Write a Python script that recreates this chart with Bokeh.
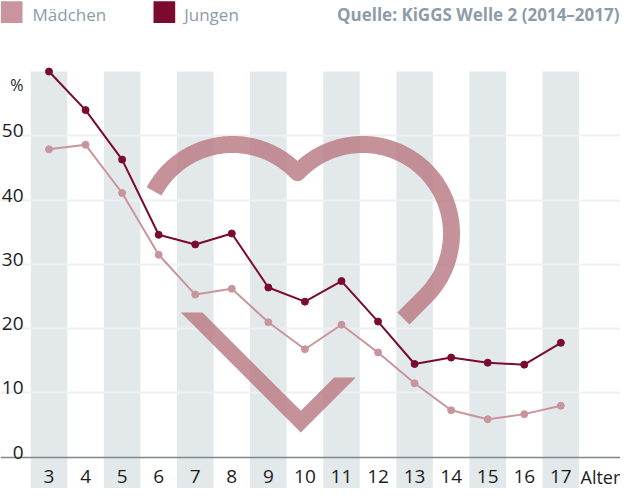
import numpy as np
from bokeh.plotting import figure
from bokeh.models import Range1d
from bokeh.embed import file_html
from bokeh.resources import INLINE
from bokeh.core.properties import value

# ---------------- data ----------------
ages = list(range(3, 18))
maedchen = [47.9, 48.6, 41.1, 31.5, 25.3, 26.2, 21.0, 16.8, 20.6, 16.3, 11.5, 7.3, 5.9, 6.7, 8.0]
jungen = [60.0, 54.0, 46.3, 34.6, 33.1, 34.8, 26.4, 24.2, 27.4, 21.1, 14.5, 15.5, 14.7, 14.4, 17.8]
y_ticks = [0, 10, 20, 30, 40, 50]
x_tick_labels = [str(a) for a in ages]
stripe_ages = ages[::2]
series_names = ["Mädchen", "Jungen"]
source_text = "Quelle: KiGGS Welle 2 (2014–2017)"
x_unit_label = "Alter"
y_unit_label = "%"

# ---------------- style ----------------
C_M = "#c9959c"
C_J = "#7a0a2e"
C_STRIPE = "#e3e8eb"
C_GRID = "#eef0f2"
C_AXIS = "#7d878c"
C_TXT = "#1d1d1b"
C_META = "#8c9ca8"
C_HEART = "#b97a83"
FONT = value("Open Sans")

W, H = 620, 488
XS, XE = 1.6734, 18.632
YS, YE = -4.87, 71.05
Y_TOP = 60


def fx(px):
    return XS + px / W * (XE - XS)


def fy(py):
    return YE - py / H * (YE - YS)


def dy(pixels):
    return pixels / H * (YE - YS)


p = figure(width=W, height=H, x_range=Range1d(XS, XE), y_range=Range1d(YS, YE),
           output_backend="svg", toolbar_location=None,
           x_axis_location=None, y_axis_location=None,
           min_border=0, min_border_left=0, min_border_right=0,
           min_border_top=0, min_border_bottom=0)
p.grid.visible = False
p.outline_line_color = None
p.background_fill_color = "white"
p.border_fill_color = "white"

# stripes
p.vbar(x=stripe_ages, width=1.0, top=Y_TOP, bottom=YS, fill_color=C_STRIPE, line_color=None)

# grid lines and baseline
p.hspan(y=y_ticks[1:], line_color=C_GRID, line_width=2)
p.hspan(y=[0], line_color=C_AXIS, line_width=1.5)

# decorative heart (geometry in screen pixels, converted to data space)
r = 89
lc = (232, 233)
rc = (362, 233)
t1 = np.radians(np.linspace(151.8, 43.1, 60))
t2 = np.radians(np.linspace(136.9, -45, 90))
hx = list(lc[0] + r * np.cos(t1)) + list(rc[0] + r * np.cos(t2))
hy = list(lc[1] - r * np.sin(t1)) + list(rc[1] - r * np.sin(t2))
hx.append(hx[-1] - 22)
hy.append(hy[-1] + 22)
p.line(x=[fx(v) for v in hx], y=[fy(v) for v in hy], line_color=C_HEART, line_alpha=0.82,
       line_width=17, line_join="round", line_cap="butt")

chk_px = [180.3, 202, 300.3, 333.7, 355.3, 300.3]
chk_py = [312, 312, 410.3, 377, 377, 432]
p.patch(x=[fx(v) for v in chk_px], y=[fy(v) for v in chk_py], fill_color=C_HEART,
        fill_alpha=0.82, line_color=None)

# series
p.line(ages, maedchen, line_color=C_M, line_width=2)
p.scatter(ages, maedchen, size=7, fill_color=C_M, line_color=C_M)
p.line(ages, jungen, line_color=C_J, line_width=2)
p.scatter(ages, jungen, size=7, fill_color=C_J, line_color=C_J)

# y tick labels
p.text(x=[fx(23)] * len(y_ticks), y=[v + dy(5) for v in y_ticks], text=[str(v) for v in y_ticks],
       text_align="right", text_baseline="alphabetic", text_font=FONT, text_font_size="19px",
       text_color=C_TXT)
p.text(x=[fx(23)], y=[fy(84)], text=[y_unit_label], text_align="right", text_baseline="middle",
       text_font=FONT, text_font_size="16px", text_color=C_TXT)

# x tick labels
p.text(x=ages, y=[fy(476)] * len(ages), text=x_tick_labels, text_align="center",
       text_baseline="middle", text_font=FONT, text_font_size="19px", text_color=C_TXT)
p.text(x=[fx(580)], y=[fy(476)], text=[x_unit_label], text_align="left", text_baseline="middle",
       text_font=FONT, text_font_size="18px", text_color=C_TXT)

# legend
sq = 21.7
for cx, col, tx, name in [(11.15, C_M, 32, series_names[0]), (163.85, C_J, 183.7, series_names[1])]:
    p.quad(left=[fx(cx - sq / 2)], right=[fx(cx + sq / 2)], top=[fy(11.65 - sq / 2)],
           bottom=[fy(11.65 + sq / 2)], fill_color=col, line_color=None)
    p.text(x=[fx(tx)], y=[fy(13.5)], text=[name], text_align="left", text_baseline="middle",
           text_font=FONT, text_font_size="17px", text_color=C_META)

p.text(x=[fx(619)], y=[fy(13.5)], text=[source_text], text_align="right", text_baseline="middle",
       text_font=FONT, text_font_size="17px", text_font_style="bold", text_color=C_META)

open("out.html", "w").write(file_html(p, INLINE))
